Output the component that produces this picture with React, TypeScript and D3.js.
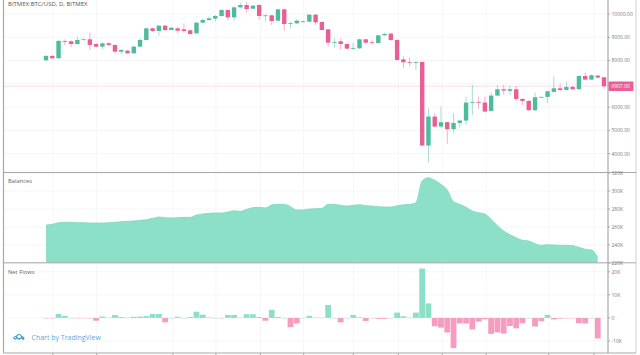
import React from "react";
import * as d3 from "d3";

const opens = [8012,8198,8098,8841,8830,8712,8884,8913,8712,8598,8741,8670,8384,8426,8312,8598,8884,9385,9270,9499,9313,9385,9342,9299,9170,9628,9742,9799,9914,10171,9856,10285,10386,10228,10386,9928,9942,9713,10200,9590,9599,9685,9670,9971,9656,9342,8784,8827,8712,8526,8526,8913,8784,8755,9084,9156,8884,8055,7940,7912,7940,4351,5595,5166,5352,5052,5323,5423,6190,6210,6196,5838,6496,6768,6696,6768,6353,6267,5867,6424,6440,6653,6810,6739,6868,6768,7340,7182,7354,7282];
const closes = [8198,8098,8841,8825,8712,8884,8913,8670,8598,8741,8670,8384,8455,8312,8598,8884,9385,9270,9499,9313,9413,9284,9270,9141,9628,9742,9813,9914,10171,9856,10285,10386,10214,10357,9914,9942,9699,10200,9570,9610,9713,9670,9971,9642,9313,8770,8800,8712,8512,8540,8913,8770,8770,9084,9141,8884,8026,7926,7912,7940,4351,5595,5166,5352,5052,5323,5423,6196,6210,6190,5810,6496,6768,6710,6768,6353,6267,5867,6424,6440,6682,6810,6739,6868,6768,7340,7182,7368,7268,6896];
const highs = [8240,8240,8884,8913,8870,9027,8955,9199,8741,8770,8784,8698,8484,8455,8641,8955,9413,9413,9527,9542,9427,9427,9599,9342,9656,9785,9885,9957,10200,10200,10343,10486,10529,10386,10415,9985,9970,10230,10230,9670,9771,9713,10000,10000,9680,9370,8955,8955,8741,8770,8940,8940,8884,9110,9199,9199,8910,8198,8140,7970,7955,5952,5738,6024,5380,5738,5452,6453,6953,6453,6453,6625,6953,6953,6911,6911,6380,6295,6625,6453,6710,7311,7025,7097,6911,7368,7483,7397,7397,7311];
const lows = [7983,8055,8083,8670,8569,8684,8870,8455,8555,8484,8627,8312,8269,8283,8298,8584,8884,9227,9070,9256,9300,9170,9199,9113,9141,9599,9713,9670,9900,9742,9713,10257,10057,10214,9742,9670,9528,9685,9284,9385,9570,9642,9642,9528,9285,8598,8569,8484,8484,8455,8498,8742,8698,8727,9070,8855,7998,7668,7740,7597,4322,3622,5137,5094,4422,4909,5094,5238,5667,5910,5782,5810,6468,6525,6525,6267,6096,5839,5839,6396,6167,6625,6668,6710,6739,6753,7154,7168,7240,6810];

const balances = [262.2,263,264.8,265.2,265.2,264.8,264.8,264.4,264.4,264.4,264.8,265.2,265.9,266.3,266.7,267.4,268.1,269.6,271.1,270.4,270,270.4,270.7,270.7,273.3,274.4,275.2,275.6,275.6,276.7,278.1,277.4,279.6,281.5,281.9,281.1,284.4,285.2,285.2,282.6,278.9,278.9,280,280.4,280.7,285.2,285.2,284.1,283.3,284.1,284.8,283.7,283.3,282.6,282.2,282.2,283.7,284.8,285.2,287,311.1,314.8,311.9,307.4,301.1,288.1,285.2,281.9,277.8,275.9,274.4,268.5,261.5,255.6,251.5,248.1,245.2,244.4,241.5,239.6,240.4,240,239.6,239.6,239.3,237.4,235.2,234.4,226.3];
const flows = [-0.1,-0.1,1.7,0.9,0,-0.1,-0.1,-0.1,-1.2,0.6,0.1,1.3,0.4,0.1,0.5,0.6,0.8,1.7,1.7,-1.9,0,0.5,0,0.4,2.7,1.4,0.2,0,-0.1,1.3,1.3,0.1,1.6,1.6,0.4,-1.2,3.5,0.4,0,-4,-2.4,0,0.9,0.2,0.1,5.6,0,-1.9,0,1.3,0.3,-1.3,0,-0.4,-0.4,0,2.3,0.7,0.1,2.3,21.4,6.3,-3.6,-4.2,-6.3,-13.1,-2.4,-2.4,-5,-1.6,-0.6,-6.9,-6.3,-6.8,-3.5,-4.5,-2.3,0,-3.7,-1.4,1.3,-0.6,-0.3,-0.1,-0.1,-2.3,-2.4,0,-8.9];

const priceTicks = [10000,9000,8000,7000,6000,5000,4000];
const balanceTicks = [320,300,280,260,240,220];
const flowTicks = [20,10,0,-10];
const gridDays = [1.1,8.1,20.25,27.1,34.2,41.1,49,56.2,63.2,70.2,80.2,87.4];
const lastPrice = 6907;

const FONT = "'Open Sans', sans-serif";
const UP = "#4dbb9e";
const DOWN = "#e95f95";
const AREA = "#8de0c8";
const PINK = "#f69cc0";
const GRID = "#f6f6f6";
const BORDER = "#a8a8a8";
const AXIS_TEXT = "#7a7a7a";

export default function App() {
  const L = 3.5, R = 608, OUT = 636, P1 = 172.5, P2 = 262.8, B = 353;
  const x = d3.scaleLinear().domain([0, 89]).range([46, 604]);
  const yP = d3.scaleLinear().domain([4000, 10000]).range([153.7, 14]);
  const yB = d3.scaleLinear().domain([220, 320]).range([263, 173]);
  const yF = d3.scaleLinear().domain([-10, 20]).range([341, 271.8]);
  const cw = 4.4;
  const bw = 5.8;
  const area = d3.area<number>()
    .x((_, i) => x(i))
    .y0(P2)
    .y1(d => yB(d))
    .curve(d3.curveMonotoneX);
  const bal = area(balances) || "";
  const balLine = d3.line<number>().x((_, i) => x(i)).y(d => yB(d)).curve(d3.curveMonotoneX)(balances) || "";
  return (
    <svg width={640} height={355} style={{ position: "absolute", left: 0, top: 0, background: "#fff" }} fontFamily={FONT}>
      <defs>
        <filter id="soft" x="-5%" y="-5%" width="110%" height="110%">
          <feGaussianBlur stdDeviation="0.35" />
        </filter>
      </defs>
      <g filter="url(#soft)">
        {gridDays.map((d, i) => (
          <line key={i} x1={x(d)} x2={x(d)} y1={0} y2={B} stroke={GRID} strokeWidth={1} />
        ))}
        {priceTicks.map(t => (
          <line key={t} x1={L} x2={R} y1={yP(t)} y2={yP(t)} stroke={GRID} />
        ))}
        {balanceTicks.map(t => (
          <line key={t} x1={L} x2={R} y1={yB(t)} y2={yB(t)} stroke={GRID} />
        ))}
        {flowTicks.map(t => (
          <line key={t} x1={L} x2={R} y1={yF(t)} y2={yF(t)} stroke={GRID} />
        ))}
        <line x1={L} x2={R} y1={yP(lastPrice) + 0.2} y2={yP(lastPrice) + 0.2} stroke="#f8dfe8" strokeWidth={1} />

        {opens.map((o, i) => {
          const c = closes[i];
          const col = c >= o ? UP : DOWN;
          const top = Math.min(yP(o), yP(c));
          const h = Math.max(Math.abs(yP(o) - yP(c)), 0.8);
          return (
            <g key={i}>
              <line x1={x(i)} x2={x(i)} y1={yP(highs[i])} y2={yP(lows[i])} stroke={col} strokeWidth={0.7} opacity={0.7} />
              <rect x={x(i) - cw / 2} y={top} width={cw} height={h} fill={col} />
            </g>
          );
        })}

        <path d={bal} fill={AREA} />
        <path d={balLine} fill="none" stroke="#7dd8bf" strokeWidth={0.8} />

        {flows.map((f, i) => {
          const y0 = yF(0), y1 = yF(f);
          return (
            <rect key={i} x={x(i) - bw / 2} y={Math.min(y0, y1)} width={bw}
              height={Math.max(Math.abs(y1 - y0), 0.4)} fill={f >= 0 ? AREA : PINK} />
          );
        })}

        <line x1={L} x2={L} y1={0} y2={B} stroke={BORDER} strokeWidth={1.2} />
        <line x1={R} x2={R} y1={0} y2={B} stroke={BORDER} strokeWidth={1.2} />
        <line x1={OUT} x2={OUT} y1={0} y2={B} stroke="#cfcfcf" strokeWidth={1} />
        <line x1={L} x2={OUT} y1={P1} y2={P1} stroke={BORDER} strokeWidth={1} />
        <line x1={L} x2={OUT} y1={P2} y2={P2} stroke={BORDER} strokeWidth={1} />
        <line x1={L} x2={OUT} y1={B} y2={B} stroke={BORDER} strokeWidth={1} />
        {gridDays.map((d, i) => (
          <line key={i} x1={x(d)} x2={x(d)} y1={B} y2={B + 2} stroke={BORDER} />
        ))}
        {priceTicks.map(t => (
          <line key={t} x1={R} x2={R + 2} y1={yP(t)} y2={yP(t)} stroke={BORDER} />
        ))}
        {balanceTicks.map(t => (
          <line key={t} x1={R} x2={R + 2} y1={yB(t)} y2={yB(t)} stroke={BORDER} />
        ))}
        {flowTicks.map(t => (
          <line key={t} x1={R} x2={R + 2} y1={yF(t)} y2={yF(t)} stroke={BORDER} />
        ))}
      </g>

      <text x={8} y={5.6} fontSize={6} fill="#555">BITMEX:BTC/USD, D, BITMEX</text>
      <text x={8} y={182.5} fontSize={5.8} fill="#666">Balances</text>
      <text x={8} y={273.5} fontSize={5.8} fill="#666">Net Flows</text>

      {priceTicks.filter(t => t !== 7000).map(t => (
        <text key={t} x={611.5} y={yP(t) + 1.8} fontSize={5} fill={AXIS_TEXT}>{d3.format(".2f")(t)}</text>
      ))}
      {balanceTicks.map(t => (
        <text key={t} x={611.5} y={yB(t) + 1.8} fontSize={5} fill={AXIS_TEXT}>{t}K</text>
      ))}
      {flowTicks.map(t => (
        <text key={t} x={611.5} y={yF(t) + 1.8} fontSize={5} fill={AXIS_TEXT}>{t === 0 ? "0" : `${t}K`}</text>
      ))}

      <rect x={608.5} y={81.5} width={25} height={9.5} rx={1} fill="#ea5f95" />
      <text x={611.5} y={88.2} fontSize={5} fill="#fff">{d3.format(".2f")(lastPrice)}</text>

      <g transform="translate(13,333)" fill="none" stroke="#3f95cf" strokeWidth={1.1}>
        <path d="M1,6 C0,3.5 3,3 3.5,3.5 C4.5,0.5 8,1 8.5,3.5 C11,3.5 11.5,6 10,6.5" />
        <path d="M1.5,6.5 L4,4.5 L6,6.2 L8.5,4.5 L10.5,6.5" />
      </g>
      <text x={31.5} y={339.5} fontSize={7} fill="#5ea9d9">Chart by TradingView</text>
    </svg>
  );
}
